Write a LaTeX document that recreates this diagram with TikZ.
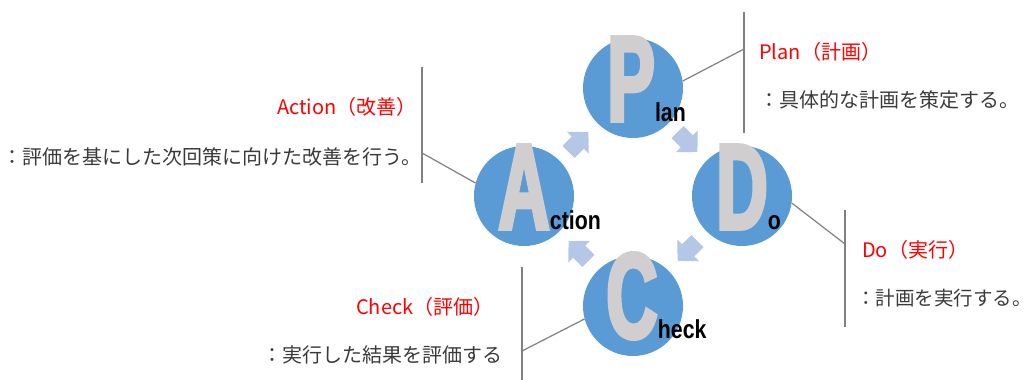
\documentclass[tikz,border=0pt]{standalone}
\usepackage{fontspec}
\usetikzlibrary{calc}
\newfontfamily\jpfont{Noto Sans CJK JP}
\newfontfamily\bigfont[FakeStretch=0.58,FakeBold=3]{Liberation Sans}
\newfontfamily\subfont[FakeStretch=0.82]{Liberation Sans}
\definecolor{circblue}{HTML}{5B9BD5}
\definecolor{lettergray}{HTML}{D0CECE}
\definecolor{arrowblue}{HTML}{B4C7E7}
\definecolor{linegray}{HTML}{808080}
\definecolor{txtgray}{HTML}{3A3A3A}
\begin{document}
\begin{tikzpicture}[x=1pt,y=-1pt,
 circ/.style={circle,fill=circblue,minimum size=100pt,inner sep=0pt},
 bigletter/.style={inner sep=0pt,text=lettergray,font=\bigfont\bfseries\fontsize{122}{122}\selectfont,anchor=base},
 subword/.style={inner sep=0pt,text=black,font=\subfont\bfseries\fontsize{26}{26}\selectfont,anchor=base west},
 redtitle/.style={inner sep=0pt,text=red,font=\jpfont\fontsize{20}{24}\selectfont,anchor=west},
 desc/.style={inner sep=0pt,text=txtgray,font=\jpfont\fontsize{20}{24}\selectfont,anchor=west},
 leader/.style={draw=linegray,line width=1.2pt},
 pics/blockarrow/.style={code={\fill[arrowblue] (-14,-8.5) -- (-1,-8.5) -- (-1,-15.5) -- (14,0) -- (-1,15.5) -- (-1,8.5) -- (-14,8.5) -- cycle;}}
]
\useasboundingbox (0,0) rectangle (1033,380);

% circles
\node[circ] (cP) at (633,88) {};
\node[circ] (cA) at (524,196) {};
\node[circ] (cD) at (742,196) {};
\node[circ] (cC) at (633,306) {};

% big letters and words
\node[bigletter] (lP) at ($(cP)+(-2,33)$) {P};
\node[subword] (wP) at (lP.base east) {lan};
\node[bigletter] (lA) at ($(cA)+(0,33)$) {A};
\node[subword] (wA) at (lA.base east) {ction};
\node[bigletter] (lD) at ($(cD)+(0,33)$) {D};
\node[subword] (wD) at (lD.base east) {o};
\node[bigletter] (lC) at ($(cC)+(-1,32)$) {C};
\node[subword] (wC) at (lC.base east) {heck};

% cycle arrows
\pic[rotate=45] at ($(cA)!0.5!(cP)$) {blockarrow};
\pic[rotate=-45] at ($(cP)!0.5!(cD)$) {blockarrow};
\pic[rotate=-135] at ($(cD)!0.5!(cC)$) {blockarrow};
\pic[rotate=135] at ($(cC)!0.5!(cA)$) {blockarrow};

% Plan
\coordinate (pTop) at (744,12);
\coordinate (pBot) at (744,133);
\coordinate (pJoin) at (744,49);
\draw[leader] (pTop) -- (pBot);
\draw[leader] (cP.8) -- (pJoin);
\node[redtitle] (tP) at (759,52) {Plan（計画）};
\node[desc] (dP) at (759,100) {：具体的な計画を策定する。};

% Do
\coordinate (dTop) at (845,210);
\coordinate (dBot) at (845,327);
\coordinate (dJoin) at (845,244);
\draw[leader] (dTop) -- (dBot);
\draw[leader] (cD.-8) -- (dJoin);
\node[redtitle] (tD) at (862,250) {Do（実行）};
\node[desc,font=\jpfont\fontsize{19.5}{24}\selectfont] (dD) at (856,298) {：計画を実行する。};

% Check
\coordinate (cTop) at (522,267);
\coordinate (cBot) at (522,380);
\coordinate (cJoin) at (522,351);
\draw[leader] (cTop) -- (cBot);
\draw[leader] (cC.195) -- (cJoin);
\node[redtitle] (tC) at (356,307) {Check（評価）};
\node[desc] (dC) at (262,355) {：実行した結果を評価する};

% Action
\coordinate (aTop) at (422,67);
\coordinate (aBot) at (422,183);
\coordinate (aJoin) at (422,153);
\draw[leader] (aTop) -- (aBot);
\draw[leader] (cA.165) -- (aJoin);
\node[redtitle] (tA) at (277,107) {Action（改善）};
\node[desc] (dA) at (2,157) {：評価を基にした次回策に向けた改善を行う。};
\end{tikzpicture}
\end{document}
